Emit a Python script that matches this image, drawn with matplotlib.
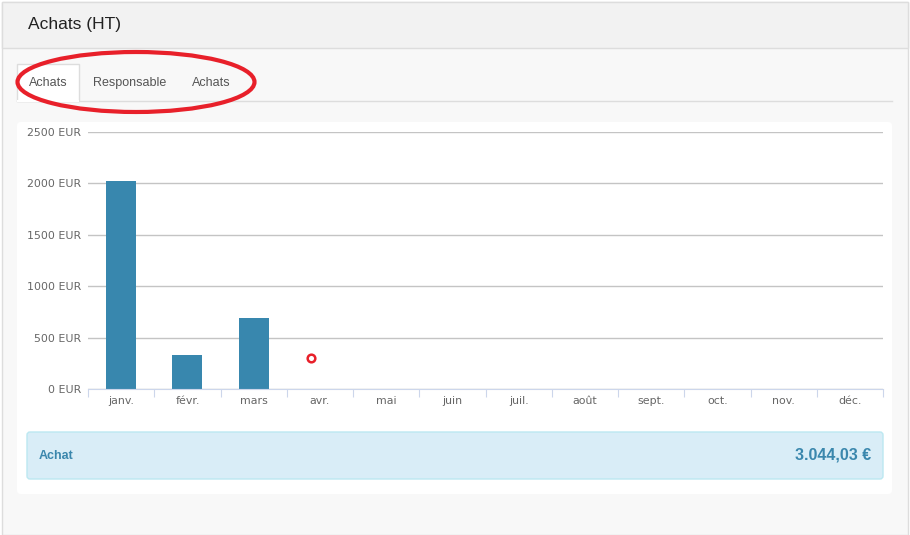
import matplotlib
matplotlib.use("Agg")
import matplotlib.pyplot as plt
from matplotlib.patches import Rectangle, FancyBboxPatch, Ellipse

months = ["janv.", "févr.", "mars", "avr.", "mai", "juin", "juil.", "août", "sept.", "oct.", "nov.", "déc."]
values = [2025, 328, 691, 0, 0, 0, 0, 0, 0, 0, 0, 0]
yticks = [0, 500, 1000, 1500, 2000, 2500]
ytick_labels = [f"{v} EUR" for v in yticks]
marker_point = (2.86, 300)
tabs = ["Achats", "Responsable", "Achats"]
title = "Achats (HT)"
summary_label = "Achat"
summary_value = "3.044,03 €"

W, H = 910, 535
fig = plt.figure(figsize=(W / 100, H / 100), dpi=100)
fig.patch.set_facecolor("#ffffff")

# background layer in pixel coordinates
bg = fig.add_axes([0, 0, 1, 1], zorder=-1)
bg.set_xlim(0, W)
bg.set_ylim(H, 0)
bg.axis("off")
page_font = "Liberation Sans"

bg.add_patch(Rectangle((2, 2), W - 4, H - 2, facecolor="#f8f8f8", edgecolor="#dddddd", lw=1))
bg.add_patch(Rectangle((2, 2), W - 4, 46, facecolor="#f2f2f2", edgecolor="#dddddd", lw=1))
bg.text(28, 25, title, fontsize=12.5, family=page_font, color="#222222", va="center", ha="left")

# tabs
bg.plot([17, 892], [101, 101], color="#dddddd", lw=1)
bg.add_patch(Rectangle((17, 64), 62, 37, facecolor="#ffffff", edgecolor="#dddddd", lw=1))
bg.plot([18, 78], [101, 101], color="#ffffff", lw=1.5)
tab_x = [48, 130, 211]
for x, t in zip(tab_x, tabs):
    bg.text(x, 83, t, fontsize=9, family=page_font, color="#555555", ha="center", va="center")

# white panel
bg.add_patch(FancyBboxPatch((17, 122), 875, 372, boxstyle="round,pad=0,rounding_size=4",
                            facecolor="#ffffff", edgecolor="none"))
# summary box
bg.add_patch(FancyBboxPatch((27, 432), 856, 47, boxstyle="round,pad=0,rounding_size=3",
                            facecolor="#d9edf7", edgecolor="#bce8f1", lw=1))
bg.text(39, 456, summary_label, fontsize=9, family=page_font, fontweight="bold",
        color="#3a87ad", ha="left", va="center")
bg.text(871, 455, summary_value, fontsize=11.5, family=page_font, fontweight="bold",
        color="#3a87ad", ha="right", va="center")

# chart
ax = fig.add_axes([88 / W, 1 - 389 / H, (883 - 88) / W, (389 - 132) / H], zorder=1)
ax.patch.set_alpha(0)
x = list(range(len(months)))
ax.bar(x, values, width=0.455, color="#3887ae", zorder=2)
ax.set_xlim(-0.5, len(months) - 0.5)
ax.set_ylim(0, 2500)
ax.set_yticks(yticks)
ax.set_yticklabels(ytick_labels)
ax.yaxis.grid(True, color="#c4c4c4", lw=1)
ax.set_axisbelow(True)
for s in ["top", "right", "left"]:
    ax.spines[s].set_visible(False)
ax.spines["bottom"].set_color("#ccd6eb")
ax.tick_params(axis="y", length=0, pad=5, labelsize=7.9, labelcolor="#666666")
ax.set_xticks([i - 0.5 for i in range(len(months) + 1)])
ax.set_xticklabels([])
ax.set_xticks(x, minor=True)
ax.set_xticklabels(months, minor=True)
ax.tick_params(axis="x", which="major", length=6, color="#ccd6eb", direction="out")
ax.tick_params(axis="x", which="minor", length=0, pad=5, labelsize=7.9, labelcolor="#666666")
ax.plot([marker_point[0]], [marker_point[1]], marker="o", ms=5.5, mfc="#ffffff",
        mec="#e8202a", mew=1.8, zorder=3, clip_on=False)

# overlay annotation
ov = fig.add_axes([0, 0, 1, 1], zorder=3)
ov.set_xlim(0, W)
ov.set_ylim(H, 0)
ov.axis("off")
ov.patch.set_alpha(0)
ov.add_patch(Ellipse((136, 82), 237, 60, facecolor="none", edgecolor="#e8202a", lw=3))

fig.savefig("out.png", dpi=100)
